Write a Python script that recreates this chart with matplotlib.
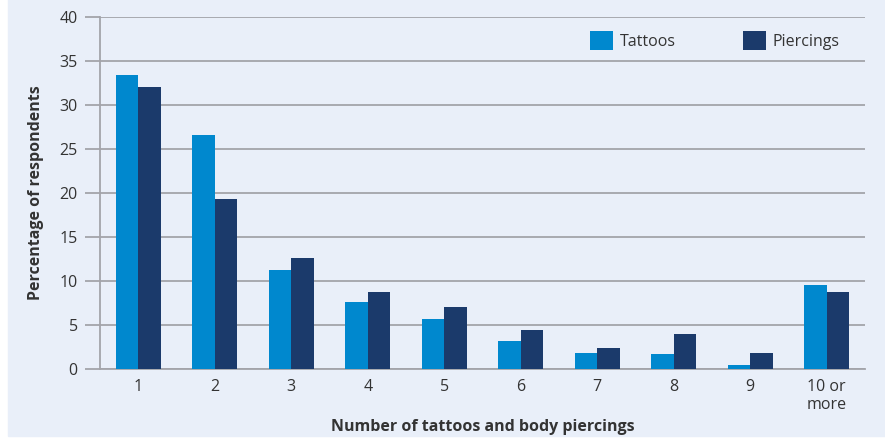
import numpy as np
import matplotlib
matplotlib.use("Agg")
import matplotlib.pyplot as plt
from matplotlib.patches import Rectangle

plt.rcParams['font.family'] = ['Open Sans', 'DejaVu Sans']

categories = ["1", "2", "3", "4", "5", "6", "7", "8", "9", "10 or\nmore"]
tattoos = [33.4, 26.6, 11.2, 7.6, 5.7, 3.2, 1.8, 1.7, 0.45, 9.5]
piercings = [32.0, 19.3, 12.6, 8.7, 7.0, 4.4, 2.4, 4.0, 1.8, 8.7]

bg = "#E9EFF9"
grid_col = "#A3A4AA"
text_col = "#333333"
c_tat = "#0088CE"
c_pie = "#1B3A6B"

fig = plt.figure(figsize=(8.85, 4.38), dpi=100)
fig.patches.append(Rectangle((8 / 885, 0.005), 1, 1, transform=fig.transFigure,
                             color=bg, zorder=-10))

ax = fig.add_axes([100 / 885, 1 - 369 / 438, 765 / 885, 352 / 438])
ax.set_facecolor(bg)

x = np.arange(len(categories))
w = 0.297
ax.bar(x - w / 2, tattoos, w, color=c_tat, label="Tattoos", zorder=3)
ax.bar(x + w / 2, piercings, w, color=c_pie, label="Piercings", zorder=3)

ax.set_xlim(-0.5, len(categories) - 0.5)
ax.set_ylim(0, 40)
ax.set_yticks(range(0, 41, 5))
ax.set_xticks(x)
ax.set_xticklabels(categories, fontsize=11.5, color=text_col, linespacing=1.15)

ax.yaxis.grid(True, color=grid_col, linewidth=1.3, zorder=1)
ax.tick_params(axis='y', length=11, width=1.3, color=grid_col, labelsize=11.5,
               labelcolor=text_col, pad=5)
ax.tick_params(axis='x', length=0, pad=7)

for s in ["top", "right"]:
    ax.spines[s].set_visible(False)
for s in ["left", "bottom"]:
    ax.spines[s].set_color(grid_col)
    ax.spines[s].set_linewidth(1.3)

ax.set_ylabel("Percentage of respondents", fontsize=11.5, fontweight="bold",
              color=text_col, labelpad=11)
ax.set_xlabel("Number of tattoos and body piercings", fontsize=11.5,
              fontweight="bold", color=text_col, labelpad=5)

leg = ax.legend(loc="upper right", bbox_to_anchor=(0.985, 1.0), ncol=2,
                frameon=False, fontsize=11.5, handlelength=1.45, handleheight=1.45,
                columnspacing=4.2, handletextpad=0.4)
for t in leg.get_texts():
    t.set_color(text_col)

fig.savefig("out.png", dpi=100, facecolor="white")
